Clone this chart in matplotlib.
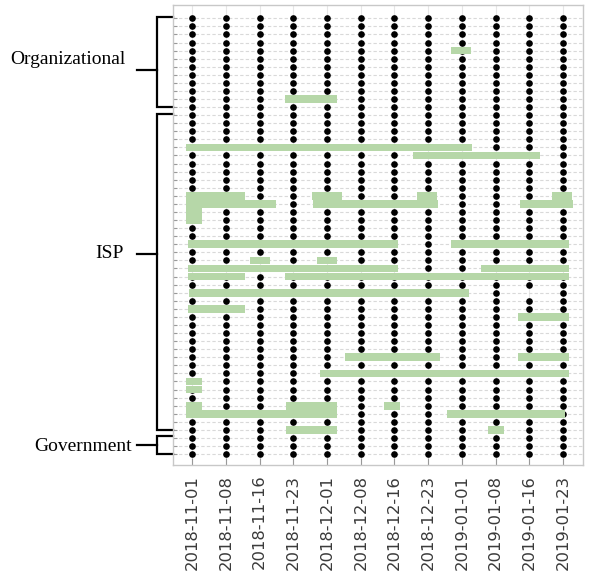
import numpy as np
import matplotlib.pyplot as plt
from matplotlib.transforms import blended_transform_factory

dates=["2018-11-01","2018-11-08","2018-11-16","2018-11-23","2018-12-01","2018-12-08",
	"2018-12-16","2018-12-23","2019-01-01","2019-01-08","2019-01-16","2019-01-23"]
groups=["Organizational","ISP","Government"]
group_sizes=[12,40,3]

# outage spans, row index and start/end measured in date-column units
outage_rows=[4,10,16,17,
	22,22,22,22,23,23,23,24,25,
	28,28,30,30,31,31,32,32,34,36,37,
	42,42,44,45,46,48,48,48,49,49,51,51]
outage_start=[7.68,2.74,-0.19,6.54,
	-0.19,3.54,6.68,10.67,-0.19,3.58,9.72,-0.19,-0.19,
	-0.13,7.68,1.71,3.69,-0.13,8.57,-0.13,2.74,-0.10,-0.13,9.66,
	4.52,9.66,3.78,-0.19,-0.19,-0.19,2.77,5.70,-0.19,7.56,2.77,8.78]
outage_end=[8.27,4.30,8.29,10.32,
	1.56,4.43,7.27,11.26,2.48,7.30,11.29,0.29,0.29,
	6.11,11.17,2.30,4.28,6.11,11.17,1.56,11.17,8.21,1.56,11.17,
	7.36,11.17,11.17,0.29,0.29,0.29,4.30,6.17,4.30,11.06,4.30,9.25]

# samples that are simply absent (no dot, no outage bar)
missing_rows=[34]
missing_cols=[10]

GREEN="#b6d7a8"

def draw_bracket(ax,top,bottom,mid,label,label_y,label_x):
	tr=blended_transform_factory(ax.transAxes,ax.transData)
	xv=-0.039
	ax.plot([0.0,xv,xv,0.0],[top,top,bottom,bottom],color="black",lw=1.6,
		transform=tr,clip_on=False,solid_joinstyle="miter")
	ax.plot([xv,-0.086],[mid,mid],color="black",lw=1.6,transform=tr,clip_on=False)
	ax.text(label_x,label_y,label,transform=tr,ha="right",va="center",
		fontsize=14,family="Liberation Serif",color="black")

n_rows=sum(group_sizes)
n_cols=len(dates)

fig=plt.figure(figsize=(5.9,5.79),dpi=100)
ax=fig.add_axes([0.2927,0.1969,0.988-0.2927,0.9914-0.1969])

# every sample as a dot, except the missing ones
present=np.ones((n_rows,n_cols),dtype=bool)
for r,c in zip(missing_rows,missing_cols):
	present[r,c]=False
rr,cc=np.nonzero(present)
ax.scatter(cc,rr,s=23,color="black",linewidths=0,zorder=2)

# outages on top
starts=np.array(outage_start)
ends=np.array(outage_end)
ax.barh(outage_rows,ends-starts,left=starts,height=0.95,color=GREEN,zorder=3)

ax.set_xlim(-0.58,11.59)
ax.set_ylim(55.35,-1.65)
ax.set_xticks(range(n_cols))
ax.set_xticklabels(dates,rotation=90,fontsize=11.8,color="#3a3a3a")
ax.set_yticks(range(n_rows))
ax.tick_params(axis="y",direction="in",length=3,color="#999999",labelleft=False)
ax.tick_params(axis="x",direction="in",length=5,color="#999999",pad=7)
ax.grid(axis="y",color="#d9d9d9",lw=0.8,linestyle=(0,(3,2)),zorder=0)
ax.grid(axis="x",color="#e6e6e6",lw=0.8,zorder=0)
ax.set_axisbelow(True)
for sp in ax.spines.values():
	sp.set_color("#c8c8c8")
	sp.set_linewidth(1)

# group brackets on the left
mid_rows=[6.4,29.2,52.9]
label_rows=[5.1,29.1,53.0]
label_xs=[-0.114,-0.120,-0.100]
first=0
for g,size,m,ly,lx in zip(groups,group_sizes,mid_rows,label_rows,label_xs):
	last=first+size-1
	draw_bracket(ax,first-0.2,last,m,g,ly,lx)
	first+=size

plt.savefig("out.png",dpi=100)
